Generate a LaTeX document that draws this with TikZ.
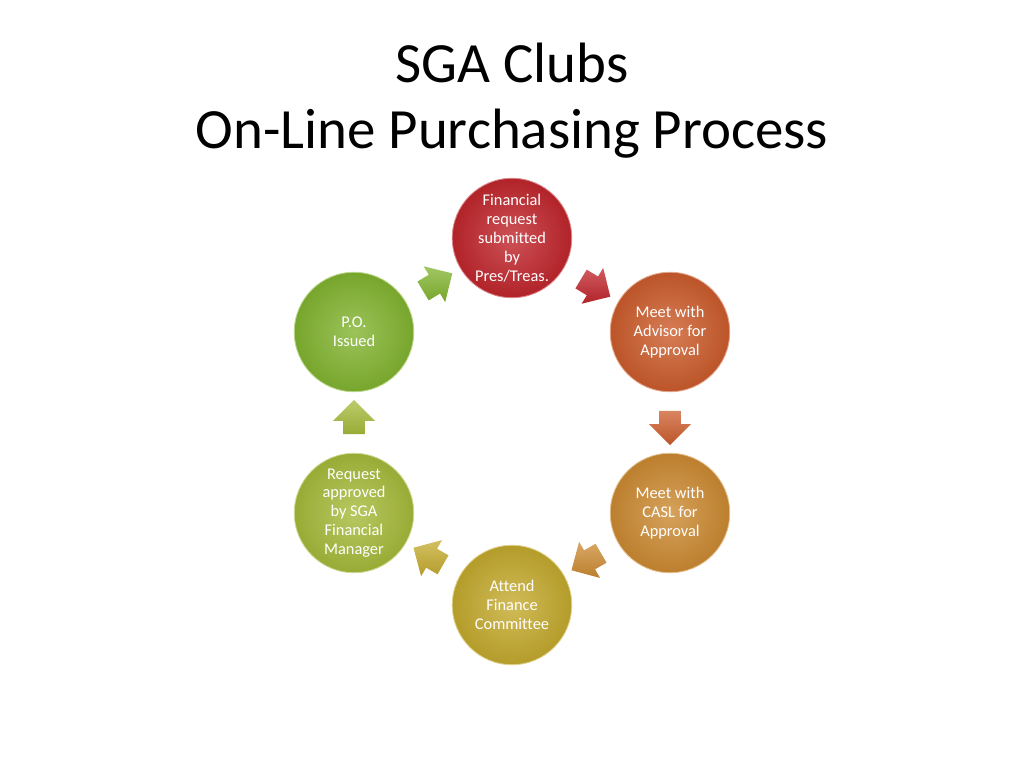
\documentclass[tikz,border=0pt]{standalone}
\usepackage{fontspec}
\setmainfont{Carlito}[Ligatures=NoCommon]
\usetikzlibrary{shapes.arrows}
\usetikzlibrary{calc}

\definecolor{stepred}{RGB}{192,38,44}
\definecolor{steprust}{RGB}{204,92,44}
\definecolor{steporange}{RGB}{204,138,50}
\definecolor{stepgold}{RGB}{196,170,46}
\definecolor{steplime}{RGB}{166,186,58}
\definecolor{stepgreen}{RGB}{130,180,48}

\tikzset{
  stage/.style={circle, minimum size=84pt, inner sep=0pt, align=center,
    text=white, font=\fontsize{11.5}{13.3}\selectfont,
    draw=#1!55!white, line width=0.6pt,
    inner color=#1!80!white, outer color=#1!92!black},
  flow/.style={single arrow, minimum height=24pt, minimum width=0pt,
    inner sep=0pt, inner ysep=7.5pt, single arrow head extend=7pt,
    draw=none, top color=#1!75!white, bottom color=#1!92!black}
}

\begin{document}
\begin{tikzpicture}[x=0.703125pt, y=-0.703125pt]
  \useasboundingbox (0,0) rectangle (1024,768);
  \node[anchor=base, font=\fontsize{40}{46}\selectfont] (title1) at (512,83) {SGA Clubs};
  \node[anchor=base, font=\fontsize{40}{46}\selectfont] (title2) at (512,149) {On-Line Purchasing Process};

  \node[stage=stepred] (top) at (512,238) {Financial\\request\\submitted\\by\\Pres/Treas.};
  \node[stage=steprust] (ur) at (670,332) {Meet with\\Advisor for\\Approval};
  \node[stage=steporange] (lr) at (670,513) {Meet with\\CASL for\\Approval};
  \node[stage=stepgold] (bot) at (512,605) {Attend\\Finance\\Committee};
  \node[stage=steplime] (ll) at (354,513) {Request\\approved\\by SGA\\Financial\\Manager};
  \node[stage=stepgreen] (ul) at (354,332) {P.O.\\Issued};

  \node[flow=stepred, rotate=-31] (a1) at ($(top)!0.5!(ur)$) {};
  \node[flow=steprust, rotate=-90] (a2) at ($(ur)!0.5!(lr)$) {};
  \node[flow=steporange, rotate=-150] (a3) at ($(lr)!0.5!(bot)$) {};
  \node[flow=stepgold, rotate=150] (a4) at ($(bot)!0.5!(ll)$) {};
  \node[flow=steplime, rotate=90] (a5) at ($(ll)!0.5!(ul)$) {};
  \node[flow=stepgreen, rotate=31] (a6) at ($(ul)!0.5!(top)$) {};
\end{tikzpicture}
\end{document}
